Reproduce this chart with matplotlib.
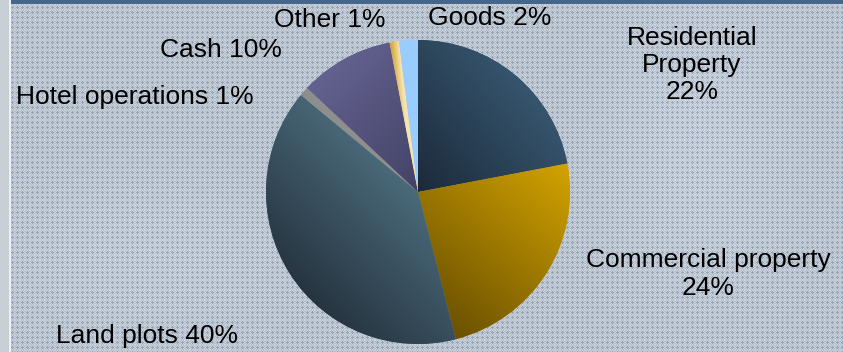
import matplotlib
matplotlib.use('Agg')
import matplotlib.pyplot as plt
import numpy as np
from matplotlib.patches import Rectangle
from matplotlib.colors import to_rgb

plt.rcParams['font.family'] = ['Liberation Sans', 'DejaVu Sans']

# portfolio structure, %
labels = ['Residential\nProperty', 'Commercial property', 'Land plots', 'Hotel operations',
          'Cash', 'Other', 'Goods']
shares = [22, 24, 40, 1, 10, 1, 2]

# (dark, light, direction of light side in degrees)
fills = [('#1b2a3a', '#37566f', 40),
         ('#6a5000', '#d3a300', 50),
         ('#26333f', '#4a6a7a', 45),
         ('#8a8a8a', '#8e8e8e', 0),
         ('#434265', '#63618f', 135),
         ('#d09e2a', '#f6e4b0', 5),
         ('#99ccff', '#99ccff', 0)]

# label text and where it sits (pixels from top-left)
label_text = ['Residential\nProperty\n22%', 'Commercial property\n24%', 'Land plots 40%',
              'Hotel operations 1%', 'Cash 10%', 'Other 1%', 'Goods 2%']
label_xy = [(692, 65), (708, 274), (147, 336), (135, 97), (221, 50), (330, 20), (490, 18)]

W, H = 843, 352
fig = plt.figure(figsize=(W / 100, H / 100), dpi=100)
ax = fig.add_axes([0, 0, 1, 1])

# textured backdrop: grid of small crosses
tile = np.zeros((5, 5, 3))
base = np.array(to_rgb('#b3bdca'))
dark = np.array(to_rgb('#95a2b3'))
light = np.array(to_rgb('#c8d0da'))
for i in range(5):
    for j in range(5):
        tile[i, j] = light if (i + j) % 2 == 0 else base
for (i, j) in [(2, 2), (1, 2), (3, 2), (2, 1), (2, 3)]:
    tile[i, j] = dark
bg = np.tile(tile, (H // 5 + 1, W // 5 + 1, 1))[:H, :W]
yy, xx = np.mgrid[0:H, 0:W]
shade = 1 + 0.04 * np.exp(-((xx - 700) ** 2 / 9000 + (yy - 150) ** 2 / 20000)) \
    + 0.03 * np.exp(-((xx - 150) ** 2 / 20000 + (yy - 250) ** 2 / 6000))
bg = np.clip(bg * shade[..., None], 0, 1)
ax.imshow(bg, extent=(0, W, 0, H), origin='upper', interpolation='nearest', zorder=0)

ax.add_patch(Rectangle((0, 0), 9, H, color='#c9cfd6', zorder=1, lw=0))
ax.add_patch(Rectangle((9, 0), 1.5, H, color='#eef1f4', zorder=1, lw=0))
ax.add_patch(Rectangle((10.5, H - 3.5), W, 3.5, color='#44668c', zorder=1, lw=0))

cx, cy, r = 418, H - 192, 152
wedges, _ = ax.pie(shares, startangle=90, counterclock=False, center=(cx, cy),
                   radius=r, frame=True, wedgeprops=dict(linewidth=0))

# linear shading across each slice
for w, s, (c0, c1, ang) in zip(wedges, shares, fills):
    w.set_zorder(2)
    w.set_facecolor(c1)
    a = np.deg2rad(ang)
    d = np.array([np.cos(a), np.sin(a)])
    verts = w.get_path().vertices
    if s < 5:
        # thin slices: shade across the rim only
        verts = verts[np.hypot(verts[:, 0] - cx, verts[:, 1] - cy) > r * 0.9]
    proj = verts @ d
    pmin, pmax = proj.min(), proj.max()
    x0, x1 = cx - r, cx + r
    y0, y1 = cy - r, cy + r
    gx, gy = np.meshgrid(np.linspace(x0, x1, 400), np.linspace(y1, y0, 400))
    t = (gx * d[0] + gy * d[1] - pmin) / max(pmax - pmin, 1e-6)
    t = np.clip(t, 0, 1)
    col = np.array(to_rgb(c0)) * (1 - t[..., None]) + np.array(to_rgb(c1)) * t[..., None]
    im = ax.imshow(col, extent=(x0, x1, y0, y1), origin='upper', zorder=3,
                   interpolation='bilinear')
    im.set_clip_path(w)

for txt, (x, y) in zip(label_text, label_xy):
    ax.text(x, H - y, txt, ha='center', va='center', fontsize=19, color='black',
            linespacing=1.18, zorder=5)

ax.set_xlim(0, W)
ax.set_ylim(0, H)
ax.set_aspect('auto')
ax.axis('off')

fig.savefig('out.png', dpi=100)
